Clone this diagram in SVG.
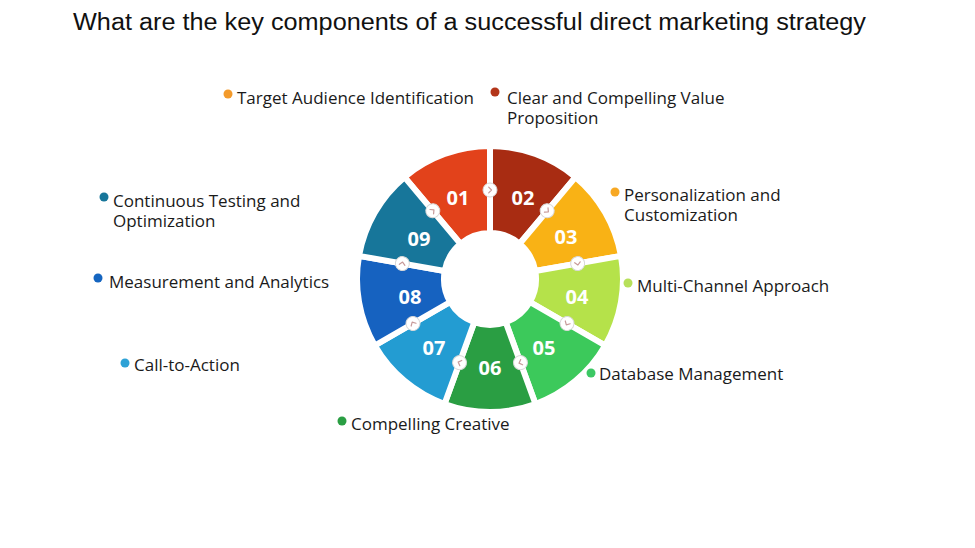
<svg xmlns="http://www.w3.org/2000/svg" width="975" height="548" viewBox="0 0 975 548">
<style>
.title{font-family:"Liberation Sans",Arial,sans-serif;font-size:23px;fill:#111}
.lbl{font-family:"Open Sans","Noto Sans",sans-serif;font-size:17px;fill:#1a1a1a}
.num{font-family:"Open Sans","Noto Sans",sans-serif;font-size:20px;font-weight:700;fill:#fff;text-anchor:middle}
.seg{stroke:#fff;stroke-width:6;stroke-linejoin:miter}
.cc{fill:#fff;stroke:#d8d8d8;stroke-width:1}
.cv{fill:none;stroke:#c79a9a;stroke-width:1.2;stroke-linecap:round;stroke-linejoin:round}
</style>
<defs>
<g id="conn"><circle class="cc" cx="0" cy="0" r="7"/><path class="cv" d="M -1.3 -2.8 L 1.5 0 L -1.3 2.8"/></g>
</defs>
<rect width="975" height="548" fill="#fff"/>
<text class="title" x="73" y="30" textLength="793" lengthAdjust="spacingAndGlyphs">What are the key components of a successful direct marketing strategy</text>

<g id="ring">
<g id="seg01"><path class="seg" fill="#E2421B" d="M 404.51 177.12 A 133 133 0 0 1 490 146 L 490 233 A 46 46 0 0 0 460.43 243.76 Z"/><text class="num" x="458" y="205">01</text></g>
<g id="seg02"><path class="seg" fill="#A82C12" d="M 490 146 A 133 133 0 0 1 575.49 177.12 L 519.57 243.76 A 46 46 0 0 0 490 233 Z"/><text class="num" x="523" y="205">02</text></g>
<g id="seg03"><path class="seg" fill="#F9B215" d="M 575.49 177.12 A 133 133 0 0 1 620.98 255.91 L 535.30 271.01 A 46 46 0 0 0 519.57 243.76 Z"/><text class="num" x="566" y="244">03</text></g>
<g id="seg04"><path class="seg" fill="#B5E24A" d="M 620.98 255.91 A 133 133 0 0 1 605.18 345.5 L 529.84 302 A 46 46 0 0 0 535.30 271.01 Z"/><text class="num" x="577" y="304">04</text></g>
<g id="seg05"><path class="seg" fill="#3CC95B" d="M 605.18 345.5 A 133 133 0 0 1 535.49 403.98 L 505.73 322.23 A 46 46 0 0 0 529.84 302 Z"/><text class="num" x="544" y="355">05</text></g>
<g id="seg06"><path class="seg" fill="#2A9E43" d="M 535.49 403.98 A 133 133 0 0 1 444.51 403.98 L 474.27 322.23 A 46 46 0 0 0 505.73 322.23 Z"/><text class="num" x="490" y="375">06</text></g>
<g id="seg07"><path class="seg" fill="#239CD2" d="M 444.51 403.98 A 133 133 0 0 1 374.82 345.5 L 450.16 302 A 46 46 0 0 0 474.27 322.23 Z"/><text class="num" x="434" y="355">07</text></g>
<g id="seg08"><path class="seg" fill="#1662C0" d="M 374.82 345.5 A 133 133 0 0 1 359.02 255.91 L 444.70 271.01 A 46 46 0 0 0 450.16 302 Z"/><text class="num" x="410" y="304">08</text></g>
<g id="seg09"><path class="seg" fill="#17769A" d="M 359.02 255.91 A 133 133 0 0 1 404.51 177.12 L 460.43 243.76 A 46 46 0 0 0 444.70 271.01 Z"/><text class="num" x="419" y="246">09</text></g>
<circle cx="490" cy="279" r="46" fill="#fff"/>
</g>

<g id="connectors">
<use href="#conn" transform="translate(490 190) rotate(0)"/>
<use href="#conn" transform="translate(547.21 210.83) rotate(40)"/>
<use href="#conn" transform="translate(577.65 263.55) rotate(80)"/>
<use href="#conn" transform="translate(567.07 323.5) rotate(120)"/>
<use href="#conn" transform="translate(520.44 362.63) rotate(160)"/>
<use href="#conn" transform="translate(459.56 362.63) rotate(200)"/>
<use href="#conn" transform="translate(412.93 323.5) rotate(240)"/>
<use href="#conn" transform="translate(402.35 263.55) rotate(280)"/>
<use href="#conn" transform="translate(432.79 210.83) rotate(320)"/>
</g>

<g id="label01"><circle cx="228" cy="94" r="4.5" fill="#F39A2B"/><text class="lbl" x="237" y="104">Target Audience Identification</text></g>
<g id="label02"><circle cx="495" cy="92" r="4.5" fill="#B3361A"/><text class="lbl" x="507" y="104">Clear and Compelling Value</text><text class="lbl" x="507" y="124">Proposition</text></g>
<g id="label03"><circle cx="615" cy="192" r="4.5" fill="#F7A823"/><text class="lbl" x="624" y="201">Personalization and</text><text class="lbl" x="624" y="221">Customization</text></g>
<g id="label04"><circle cx="628" cy="283" r="4.5" fill="#B7E05A"/><text class="lbl" x="637" y="292">Multi-Channel Approach</text></g>
<g id="label05"><circle cx="591" cy="373" r="4.5" fill="#3CC864"/><text class="lbl" x="599" y="380">Database Management</text></g>
<g id="label06"><circle cx="342" cy="421" r="4.5" fill="#2A9E43"/><text class="lbl" x="351" y="430">Compelling Creative</text></g>
<g id="label07"><circle cx="125" cy="363" r="4.5" fill="#2EA2D6"/><text class="lbl" x="134" y="371">Call-to-Action</text></g>
<g id="label08"><circle cx="98" cy="278" r="4.5" fill="#1565C0"/><text class="lbl" x="109" y="288">Measurement and Analytics</text></g>
<g id="label09"><circle cx="104" cy="197" r="4.5" fill="#17769A"/><text class="lbl" x="113" y="207">Continuous Testing and</text><text class="lbl" x="113" y="227">Optimization</text></g>
</svg>
